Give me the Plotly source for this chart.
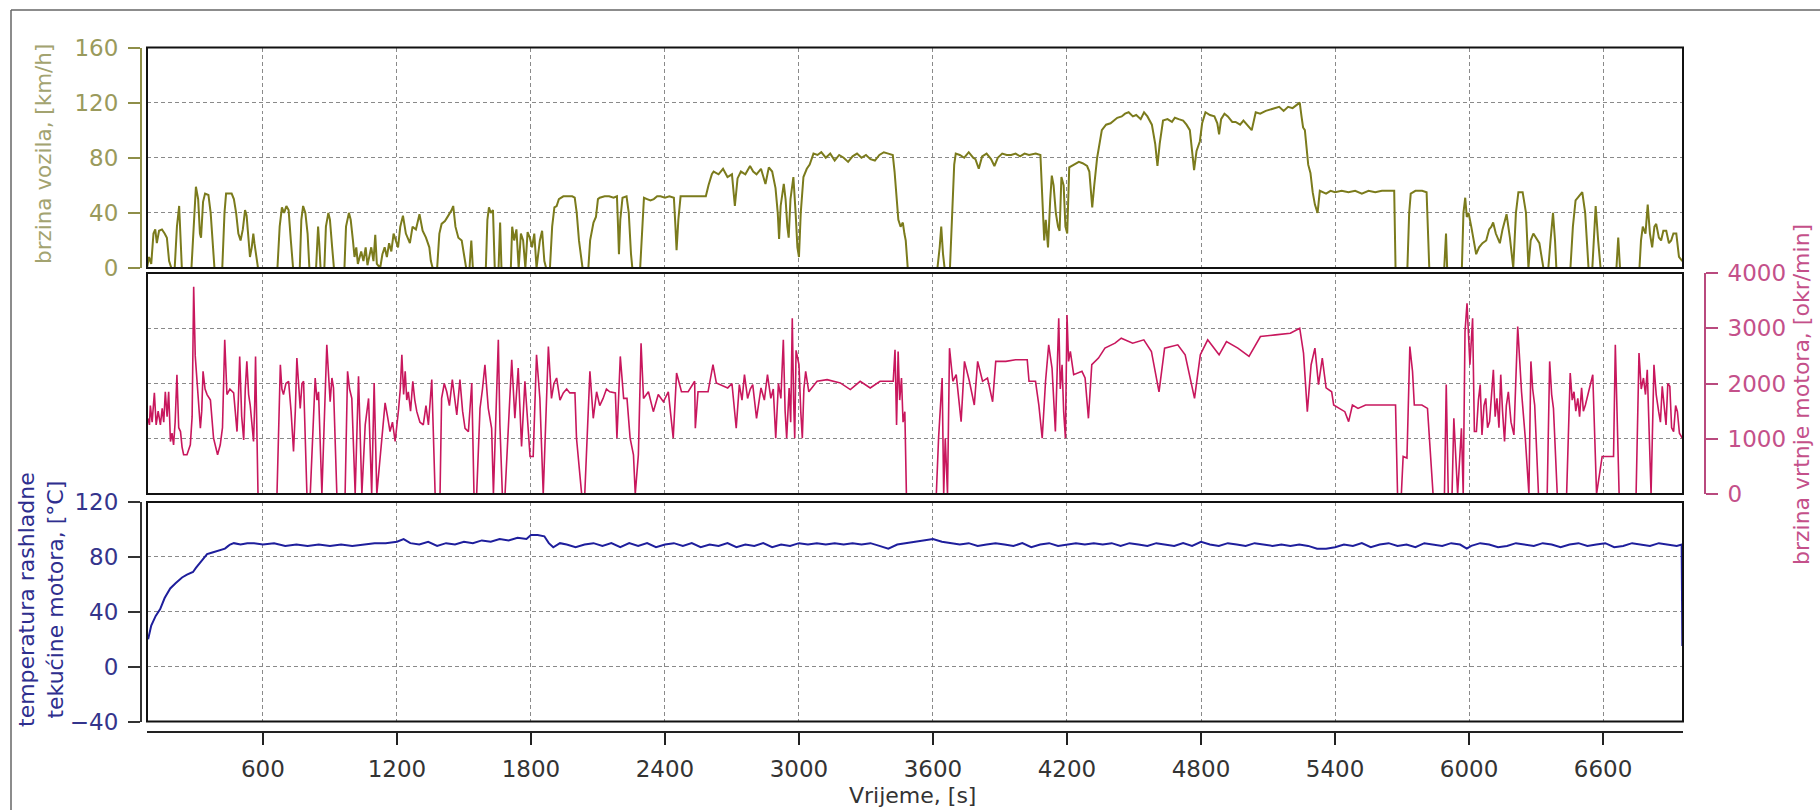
import plotly.graph_objects as go

# ---------------- data ----------------
speed_t = [81,90,100,110,118,125,135,148,160,170,180,190,205,215,225,232,237,280,292,300,310,318,323,332,341,356,366,378,383,418,428,435,460,470,480,490,500,510,520,527,535,542,550,557,562,572,578,
           665,675,685,695,705,715,725,735,765,772,780,790,800,808,838,842,847,852,858,875,882,893,900,910,918,965,972,985,993,1003,1010,1018,1025,1040,1050,1060,1068,1085,1095,1103,1110,1125,1135,1145,1155,1165,1175,1185,1195,
           1205,1215,1227,1240,1258,1270,1285,1301,1315,1330,1345,1352,1360,1380,1390,1400,1415,1430,1445,1452,1462,1475,1490,1500,1510,1525,1533,1540,1598,1605,1612,1620,1630,1638,1655,1662,1668,1710,1716,1725,1735,1745,1755,1765,1775,1785,1795,1805,1815,1825,
           1840,1850,1860,1868,1885,1895,1905,1915,1925,1945,1970,1985,1996,2005,2015,2025,2031,2057,2065,2080,2091,2100,2108,2130,2150,2170,2185,2190,2194,2200,2210,2228,2238,2248,2254,2289,2296,2306,2320,2335,2350,2365,2380,2400,2420,2440,2447,2452,2460,2470,2500,2530,2560,2583,2595,2610,
           2618,2640,2660,2680,2700,2713,2725,2740,2760,2781,2795,2810,2830,2850,2865,2880,2895,2905,2911,2918,2932,2940,2948,2954,2962,2975,2985,2993,3000,3008,3020,3035,3048,3065,3083,3100,3120,3140,3160,3180,3200,3220,3240,3260,3280,3300,3320,3340,3360,3380,3400,3420,3428,3435,3445,3455,3465,3472,3478,3487,
           3620,3630,3637,3645,3652,3676,3685,3695,3702,3720,3740,3760,3780,3790,3805,3820,3840,3860,3875,3890,3910,3930,3950,3970,3990,4010,4030,4060,4081,4090,4098,4105,4115,4125,4132,4140,4150,4160,4167,4175,4185,4193,4201,4210,4230,4253,4270,4290,4300,4313,4322,4335,4356,4375,4395,4425,4445,4460,4476,4495,4510,4530,4545,4560,4580,4595,4605,4615,4630,4650,4670,4683,4700,4720,4735,4750,4760,4769,4780,4795,4805,4820,4840,4860,4873,4881,4890,4905,4920,4940,4955,4975,4990,5010,5027,5045,5065,5090,5110,5130,5150,5170,5190,5210,5225,5242,
           5250,5257,5265,5280,5290,5300,5310,5322,5332,5345,5360,5380,5400,5430,5460,5490,5520,5550,5580,5610,5640,5665,5671,5724,5732,5739,5760,5790,5810,5816,5822,5889,5894,5897,5902,5968,5975,5983,5990,5998,6010,6020,6032,6045,6060,6077,6090,6100,6108,6120,6138,6150,6160,6168,6183,6198,6210,6221,6240,6255,6266,6276,6288,6300,6315,6333,6355,6365,6376,6385,6391,6454,6465,6477,6495,6507,6520,6535,6552,6560,6567,6578,6589,6660,6668,6676,6763,6770,6778,6790,6800,6810,6820,6830,6838,6850,6860,6870,6883,6895,6905,6915,6928,6940,6955]
speed_v = [0,8,3,25,28,18,27,28,25,22,5,0,0,30,45,20,0,0,40,59,50,25,22,48,54,53,40,5,0,0,40,54,54,50,40,25,20,28,42,38,20,8,15,25,18,5,0,
           0,30,44,40,45,42,20,0,0,35,45,40,25,0,0,20,30,18,0,0,30,40,35,15,0,0,30,40,35,20,8,15,3,12,5,15,2,15,5,24,3,0,10,15,8,18,12,25,20,
           15,30,38,25,18,30,28,39,27,22,15,5,0,0,25,32,34,38,42,45,30,22,20,10,0,0,20,0,0,35,44,40,42,0,0,33,0,0,30,20,28,0,25,20,0,26,22,15,25,0,
           20,27,5,0,0,30,44,45,50,52,52,52,51,40,20,5,0,0,20,33,37,50,51,52,52,51,52,30,10,35,51,52,40,10,0,0,20,51,50,49,50,52,52,51,52,51,30,13,35,52,52,52,52,52,60,68,
           70,68,72,66,68,45,65,70,68,74,70,68,72,61,73,70,58,40,21,45,61,50,30,22,50,66,40,15,8,40,66,72,75,83,82,84,80,83,78,82,80,77,81,83,80,82,79,78,82,84,83,82,70,56,35,30,33,25,20,0,
           0,15,30,10,0,0,40,75,83,82,80,84,80,79,72,81,83,79,74,80,83,82,82,83,81,83,82,83,82,50,20,35,15,50,67,60,40,30,27,66,60,30,25,73,75,77,76,74,70,44,60,80,100,104,105,109,110,112,113,110,111,108,113,110,104,90,74,90,107,108,106,109,108,107,104,100,85,71,85,92,105,113,111,110,105,97,108,112,110,106,106,104,107,103,100,113,112,114,115,116,117,114,117,116,118,120,
           110,102,100,75,69,55,46,40,56,55,54,56,55,56,55,56,54,56,55,56,56,56,0,0,40,54,56,56,55,30,0,0,15,25,0,0,40,51,37,40,30,20,10,15,18,20,28,30,33,25,18,28,35,39,22,0,40,55,55,40,0,20,25,22,18,0,0,20,40,20,0,0,30,49,53,55,40,0,0,30,45,20,0,0,22,0,0,20,30,25,46,25,15,30,32,22,20,27,27,18,20,25,25,8,5]

rpm_t = [85,92,96,104,114,122,131,141,149,156,163,171,178,186,193,200,207,215,223,231,238,245,260,275,283,290,297,305,312,320,326,332,341,350,365,379,397,409,419,429,439,452,469,477,484,490,496,505,514,521,528,536,543,550,558,563,567,578,
         663,678,685,692,703,715,726,737,745,752,760,767,775,782,797,812,834,842,849,864,886,894,901,909,916,931,968,979,988,998,1013,1028,1043,1058,1073,1087,1098,1110,1147,1158,1169,1180,1192,1207,1215,1222,1230,1237,1244,1251,1261,1271,1280,1289,1303,1318,1330,1341,1356,1371,1393,1400,1412,1423,1435,1448,1458,1468,1482,1494,1505,1520,1535,1545,1557,1572,1583,1594,1609,1624,1632,1646,1654,1661,1672,1684,1714,1728,1743,1758,1773,1796,1810,1825,1840,1855,1878,1892,1903,1915,1930,1945,1960,1974,1997,2004,2027,2041,2064,2079,2094,2108,2123,2138,2153,
         2178,2185,2200,2215,2230,2244,2259,2267,2281,2293,2304,2326,2348,2370,2393,2415,2437,2452,2474,2504,2533,2536,2548,2593,2615,2630,2681,2700,2719,2733,2745,2756,2770,2782,2793,2810,2830,2845,2859,2874,2885,2896,2908,2919,2930,2938,2945,2956,2963,2970,2976,2981,2987,3000,3008,3015,3022,3030,3044,3081,3126,3156,3185,3230,3274,3319,3363,3422,3430,3437,3444,3451,3459,3466,3474,3481,3615,3625,3641,3648,3655,3665,3674,3689,3704,3726,3741,3763,3785,3800,3822,3844,3867,3881,3926,3970,4022,4030,4059,4074,4089,4104,4118,4133,4148,4163,4170,4178,4185,4193,4200,4207,4215,4230,4267,4281,4296,4311,4341,4370,4415,
         4443,4494,4544,4578,4612,4637,4696,4729,4771,4797,4830,4881,4914,4965,5015,5066,5133,5200,5242,5259,5276,5293,5310,5326,5343,5360,5385,5394,5419,5444,5461,5478,5503,5537,5570,5604,5671,5680,5697,5705,5722,5735,5747,5755,5789,5814,5839,5890,5898,5907,5924,5932,5949,5966,5974,5982,5991,6004,6016,6024,6033,6042,6050,6058,6067,6075,6083,6092,6100,6109,6117,6125,6134,6142,6150,6159,6167,6176,6188,6201,6218,6235,6252,6268,6277,6285,6294,6311,6350,6361,6370,6378,6395,6437,6453,6462,6470,6478,6487,6495,6504,6512,6521,6537,6554,6571,6596,6647,6655,6672,6748,6761,6771,6781,6790,6798,6815,6828,6838,6849,6857,6865,6874,6882,6890,6899,6907,6916,6925,6933,6942,6955]
rpm_v = [1370,1250,1600,1300,1830,1250,1500,1250,1550,1300,1850,1400,1850,950,1100,890,1300,2160,1200,1130,850,710,710,890,1400,3750,2500,2100,1700,1190,1500,2220,1900,1800,1700,1010,710,890,1200,2790,1800,1900,1830,1500,1130,1700,2490,1400,980,1900,2400,1800,1610,1300,950,1600,2490,0,
         0,2340,1900,1800,2000,2040,1500,770,1500,2460,1900,1550,2000,2040,0,0,2100,1700,1850,0,2700,2000,1670,2100,1920,0,0,2220,1900,1730,0,2130,0,1250,1730,0,2010,0,1650,1400,1130,1300,950,1520,1900,2520,1800,2220,1700,1850,1500,2040,1700,1490,1300,1250,1600,1250,2070,0,0,1730,2000,1850,1600,2070,1700,1430,2070,1500,1190,1130,2010,0,0,1550,1900,2340,1550,1190,0,1550,2790,1250,0,0,2430,1370,2280,860,2040,680,680,2520,1730,0,2670,1730,2000,2100,1700,1830,1900,1830,1830,1010,0,0,2220,1370,1850,1600,1730,1900,1850,
         1830,1010,2490,1730,1730,1010,710,0,710,2730,1730,1850,1490,1800,1670,1850,1010,2190,1850,1850,2040,1190,1850,1850,2340,2010,1920,2000,1190,1980,1700,2160,1730,1900,1980,1370,1920,1700,2160,1730,1900,1010,2000,1730,2790,1500,1010,1920,1300,3180,1700,1010,2600,2340,1500,1010,1900,2220,1850,2040,2070,2040,2010,1890,2040,1920,2040,2040,2610,1250,2580,1700,2100,1300,1490,0,0,1010,2100,0,1010,0,2640,2040,2160,1310,2400,2040,1610,2400,2040,2100,1670,2400,2400,2430,2430,2040,2040,1610,1010,2040,2700,2280,1130,3180,1900,2340,1500,1010,3240,2400,2580,2160,2220,2100,1370,2340,2460,2640,2730,
         2820,2730,2790,2580,1850,2640,2700,2520,1730,2520,2790,2520,2760,2640,2490,2850,2880,2910,3000,2550,1490,2340,2640,1980,2460,1920,1850,1610,1550,1490,1310,1610,1550,1610,1610,1610,1610,0,0,680,650,2670,2220,1610,1610,1550,0,0,1980,0,0,1370,0,1190,0,2940,3450,2340,3180,1130,1130,1700,1980,1070,1600,1730,1200,1310,1800,2250,1400,1730,1200,2160,1500,950,1600,1850,1300,1070,3030,1850,1010,0,2400,1900,1610,0,0,2400,1800,1550,0,0,2190,1700,1850,1500,1730,1400,1920,1500,1610,1900,2160,0,680,680,2700,0,0,2550,1900,2100,1800,2250,0,2340,1800,1490,1300,1950,1600,1250,2000,1950,1200,1130,1600,1490,1100,1010]

temp_t = [86,100,120,140,160,185,210,238,260,287,300,319,335,350,370,390,408,430,445,453,470,500,530,560,600,650,700,750,800,850,900,950,1000,1050,1100,1150,1200,1230,1260,1300,1340,1380,1420,1460,1500,1540,1580,1620,1660,1700,1740,1780,1800,1830,1860,1880,1900,1930,1960,2000,2040,2080,2120,2160,2200,2240,2280,2320,2360,2400,2440,2480,2520,2560,2600,2640,2680,2720,2760,2800,2840,2880,2920,2960,3000,3040,3080,3120,3160,3200,3240,3280,3320,3360,3400,3440,3480,3520,3560,3600,3640,3680,3720,3760,3800,3840,3880,3920,3960,4000,4040,4080,4120,4160,4200,4240,4280,4320,4360,4400,4440,4480,4520,4560,4600,4640,4680,4720,4760,4800,4840,4880,4920,4960,5000,5040,5080,5120,5160,5200,5240,5280,5320,5360,5400,5440,5480,5520,5560,5600,5640,5680,5720,5760,5800,5840,5880,5920,5960,5990,6010,6050,6090,6130,6170,6210,6250,6290,6330,6370,6410,6450,6490,6530,6570,6610,6650,6690,6730,6770,6810,6850,6890,6930,6952,6955]
temp_v = [20,30,37,42,50,57,61,65,67,69,72,76,79,82,83,84,85,86,88,89,90,89,90,90,89,90,88,89,88,89,88,89,88,89,90,90,91,93,90,89,91,88,90,89,91,90,92,91,93,92,94,93,96,96,95,90,87,90,89,87,89,90,88,90,87,90,88,90,87,89,90,88,90,87,89,88,90,87,89,88,90,87,89,88,90,89,90,89,90,89,90,89,90,88,86,89,90,91,92,93,91,90,89,90,88,89,90,89,88,90,87,89,90,88,89,90,89,90,89,90,88,90,89,88,90,89,88,90,88,91,89,88,90,89,88,90,89,88,89,88,89,88,86,86,87,89,88,90,87,89,90,88,89,87,90,89,88,90,89,86,88,90,89,87,88,90,89,88,90,89,87,89,90,88,89,90,87,88,90,89,88,90,89,88,89,15]

x_ticks = [600, 1200, 1800, 2400, 3000, 3600, 4200, 4800, 5400, 6000, 6600]
speed_ticks = [0, 40, 80, 120, 160]
rpm_ticks = [0, 1000, 2000, 3000, 4000]
temp_ticks = [-40, 0, 40, 80, 120]

# ---------------- figure ----------------
W, H = 1820, 810
FONT = "DejaVu Sans"
XDOM = [147 / W, 1683 / W]
D_TOP = [(H - 268) / H, (H - 47.5) / H]
D_MID = [(H - 494) / H, (H - 273) / H]
D_BOT = [(H - 721.5) / H, (H - 502) / H]
XRANGE = [81, 6958]

OLIVE, OLIVE_AX, OLIVE_TXT = "#7b7b1c", "#8e8e48", "#9a9a5c"
PINK, PINK_AX, PINK_TXT = "#c8175d", "#b94a7e", "#c4508a"
BLUE, BLUE_AX, BLUE_TXT = "#1e1e9c", "#333333", "#34348c"
GRID = "#8a8a8a"

fig = go.Figure()
fig.add_trace(go.Scatter(x=speed_t, y=speed_v, mode="lines", xaxis="x", yaxis="y",
                         line=dict(color=OLIVE, width=2)))
fig.add_trace(go.Scatter(x=rpm_t, y=rpm_v, mode="lines", xaxis="x2", yaxis="y2",
                         line=dict(color=PINK, width=1.6)))
fig.add_trace(go.Scatter(x=temp_t, y=temp_v, mode="lines", xaxis="x3", yaxis="y3",
                         line=dict(color=BLUE, width=2)))

gx = dict(domain=XDOM, range=XRANGE, tickvals=x_ticks, showgrid=True, gridcolor=GRID,
          griddash="4px,3px", gridwidth=1, zeroline=False, automargin=False)
gy = dict(showgrid=True, gridcolor=GRID, griddash="4px,3px", gridwidth=1, zeroline=False,
          ticks="outside", ticklen=12, tickwidth=1.5, showline=True, linewidth=2,
          ticklabelstandoff=5, automargin=False)

fig.update_layout(
    width=W, height=H, margin=dict(l=0, r=0, t=0, b=0, autoexpand=False),
    paper_bgcolor="white", plot_bgcolor="white", showlegend=False,
    font=dict(family=FONT),
    xaxis=dict(gx, anchor="y", showticklabels=False, ticks=""),
    xaxis2=dict(gx, anchor="y2", showticklabels=False, ticks=""),
    xaxis3=dict(gx, anchor="free", position=(H - 732) / H, showline=True, linecolor="#222",
                linewidth=2, ticks="outside", ticklen=12, tickwidth=1.5, tickcolor="#222",
                tickfont=dict(size=23, color="#333", family=FONT), ticklabelstandoff=4),
    yaxis=dict(gy, domain=D_TOP, range=[0, 160], tickvals=speed_ticks, anchor="free",
               position=141 / W, side="left", linecolor=OLIVE_AX, tickcolor=OLIVE_AX,
               tickfont=dict(size=23, color=OLIVE_TXT, family=FONT)),
    yaxis2=dict(gy, domain=D_MID, range=[0, 4000], tickvals=rpm_ticks, anchor="free",
                position=1705 / W, side="right", linecolor=PINK_AX, tickcolor=PINK_AX,
                tickfont=dict(size=23, color=PINK_TXT, family=FONT)),
    yaxis3=dict(gy, domain=D_BOT, range=[-40, 120], tickvals=temp_ticks, anchor="free",
                position=141 / W, side="left", linecolor=BLUE_AX, tickcolor=BLUE_AX,
                tickfont=dict(size=23, color=BLUE_TXT, family=FONT)),
)

# panel frames
for dom in (D_TOP, D_MID, D_BOT):
    fig.add_shape(type="rect", xref="paper", yref="paper", x0=XDOM[0], x1=XDOM[1],
                  y0=dom[0], y1=dom[1], line=dict(color="#111", width=2), layer="above")

# outer picture frame (left and top edges)
fig.add_shape(type="line", xref="paper", yref="paper", x0=11 / W, x1=11 / W,
              y0=0, y1=(H - 10) / H, line=dict(color="#666", width=1.5))
fig.add_shape(type="line", xref="paper", yref="paper", x0=11 / W, x1=1,
              y0=(H - 10) / H, y1=(H - 10) / H, line=dict(color="#666", width=1.5))

# axis titles
fig.add_annotation(text="brzina vozila, [km/h]", xref="paper", yref="paper",
                   x=44 / W, y=(H - 154) / H, textangle=-90, showarrow=False,
                   xanchor="center", yanchor="middle",
                   font=dict(size=21.5, color="#a3a370", family=FONT))
fig.add_annotation(text="temperatura rashladne<br>tekućine motora, [°C]", xref="paper", yref="paper",
                   x=41 / W, y=(H - 600) / H, textangle=-90, showarrow=False,
                   xanchor="center", yanchor="middle",
                   font=dict(size=22, color="#2e2e8e", family=FONT))
fig.add_annotation(text="brzina vrtnje motora, [okr/min]", xref="paper", yref="paper",
                   x=1802 / W, y=(H - 395) / H, textangle=-90, showarrow=False,
                   xanchor="center", yanchor="middle",
                   font=dict(size=22, color="#c4508a", family=FONT))
fig.add_annotation(text="Vrijeme, [s]", xref="paper", yref="paper",
                   x=912 / W, y=(H - 795) / H, showarrow=False,
                   xanchor="center", yanchor="middle",
                   font=dict(size=22, color="#333", family=FONT))

fig.write_html("out.html", config={"displayModeBar": False},
               post_script="document.body.style.margin='0';")
